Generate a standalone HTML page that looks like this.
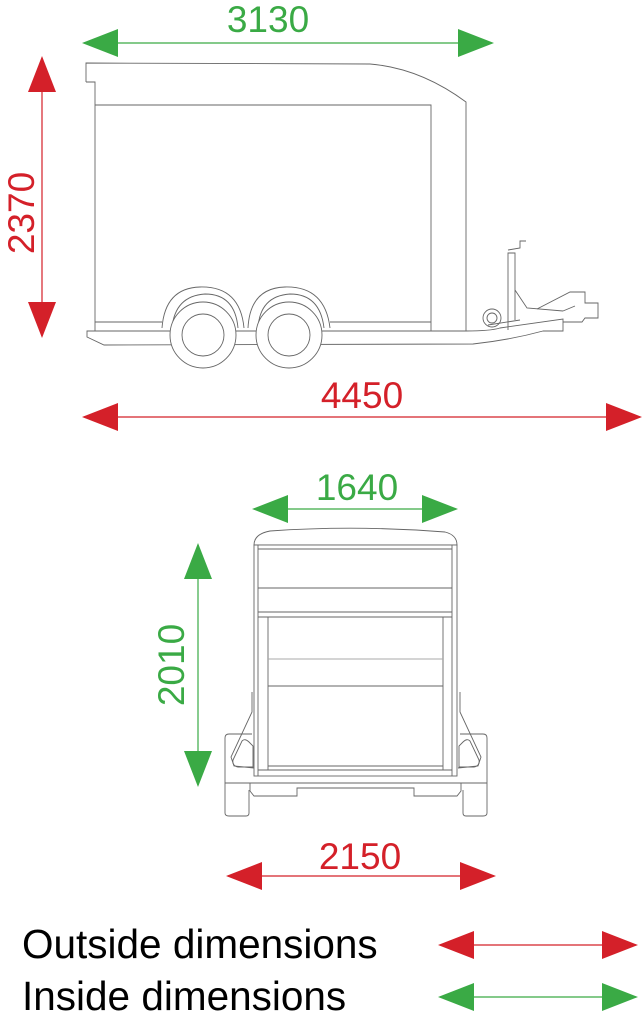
<!DOCTYPE html>
<html><head><meta charset="utf-8"><style>
html,body{margin:0;padding:0;background:#fff;}
svg{display:block;}
text{font-family:"Liberation Sans",sans-serif;}
</style></head><body>
<svg width="643" height="1024" viewBox="0 0 643 1024" xmlns="http://www.w3.org/2000/svg">
<defs>
<marker id="gL" viewBox="0 0 36 28" refX="2" refY="14" markerWidth="36" markerHeight="28" markerUnits="userSpaceOnUse" orient="auto"><path d="M0,14 L36,0 L36,28 Z" fill="#3aaa45"/></marker>
<marker id="gR" viewBox="0 0 36 28" refX="34" refY="14" markerWidth="36" markerHeight="28" markerUnits="userSpaceOnUse" orient="auto"><path d="M36,14 L0,0 L0,28 Z" fill="#3aaa45"/></marker>
<marker id="rL" viewBox="0 0 36 28" refX="2" refY="14" markerWidth="36" markerHeight="28" markerUnits="userSpaceOnUse" orient="auto"><path d="M0,14 L36,0 L36,28 Z" fill="#d42029"/></marker>
<marker id="rR" viewBox="0 0 36 28" refX="34" refY="14" markerWidth="36" markerHeight="28" markerUnits="userSpaceOnUse" orient="auto"><path d="M36,14 L0,0 L0,28 Z" fill="#d42029"/></marker>
</defs>

<g stroke-width="1.2">
<line x1="84" y1="43" x2="492" y2="43" stroke="#3aaa45" marker-start="url(#gL)" marker-end="url(#gR)"/>
<line x1="42" y1="58" x2="42" y2="336" stroke="#d42029" marker-start="url(#rL)" marker-end="url(#rR)"/>
<line x1="84" y1="417" x2="640" y2="417" stroke="#d42029" marker-start="url(#rL)" marker-end="url(#rR)"/>
<line x1="254" y1="509" x2="456" y2="509" stroke="#3aaa45" marker-start="url(#gL)" marker-end="url(#gR)"/>
<line x1="198" y1="545" x2="198" y2="785" stroke="#3aaa45" marker-start="url(#gL)" marker-end="url(#gR)"/>
<line x1="228" y1="876" x2="494" y2="876" stroke="#d42029" marker-start="url(#rL)" marker-end="url(#rR)"/>
<line x1="440" y1="945" x2="636" y2="945" stroke="#d42029" marker-start="url(#rL)" marker-end="url(#rR)"/>
<line x1="440" y1="997" x2="636" y2="997" stroke="#3aaa45" marker-start="url(#gL)" marker-end="url(#gR)"/>
</g>

<g font-size="37" text-anchor="middle">
<text x="268" y="32" fill="#3aaa45">3130</text>
<text x="362" y="408" fill="#d42029">4450</text>
<text x="357" y="500" fill="#3aaa45">1640</text>
<text x="360" y="869" fill="#d42029">2150</text>
<text transform="translate(34,213) rotate(-90)" fill="#d42029">2370</text>
<text transform="translate(184,665) rotate(-90)" fill="#3aaa45">2010</text>
</g>
<g font-size="40.5" fill="#000">
<text x="22" y="958">Outside dimensions</text>
<text x="22" y="1010">Inside dimensions</text>
</g>

<g fill="none" stroke="#666" stroke-width="0.9">
<path d="M86,82 L86,63 L370,64 Q420,68 466,102 L466,331"/>
<path d="M86,82 L95,82 L95,331"/>
<path d="M95,105 L431,105 L431,331"/>
<line x1="95" y1="322" x2="162" y2="322"/>
<line x1="330" y1="322" x2="431" y2="322"/>
<path d="M87,331 L466,331 Q490,331 500,328 L563,319 L563,331 L543,331 Q510,340 473,344 L104,345 L87,337 Z" fill="#fff"/>
<path d="M162,328 Q165,288 200,287 Q240,286 244,328" fill="#fff"/>
<path d="M172,328 Q175,296 205,294 Q235,294 238,328"/>
<path d="M248,328 Q250,288 285,287 Q325,286 330,328" fill="#fff"/>
<path d="M258,328 Q260,296 290,294 Q320,294 324,328"/>
<circle cx="203" cy="335" r="33" fill="#fff"/>
<circle cx="203" cy="335" r="21"/>
<circle cx="289" cy="335" r="33" fill="#fff"/>
<circle cx="289" cy="335" r="21"/>
<circle cx="492" cy="318" r="9" fill="#fff"/>
<circle cx="492" cy="318" r="5"/>
<path d="M488,325 L520,320"/>
<path d="M508,330 L508,253 L515,253 L515,320"/>
<path d="M508,250 L520,248 L520,241 L526,241"/>
<path d="M515,290 L527,308 L563,311"/>
<path d="M537,309 L570,292 L585,292 L585,303 L598,303 L598,318 L585,318 L582,322 L563,322"/>
<path d="M563,311 L575,306"/>
</g>

<g fill="none" stroke="#666" stroke-width="0.9">
<path d="M225,738 Q225,734 229,734 L252,734"/>
<path d="M487,738 Q487,734 483,734 L460,734"/>
<path d="M225,738 L225,813 Q225,816 229,816 L246,816 Q249,816 249,813 L249,790"/>
<path d="M487,738 L487,813 Q487,816 483,816 L466,816 Q463,816 463,813 L463,790"/>
<path d="M225,783 L487,783"/>
<path d="M250,783 L250,791 L254,796 L297,796 L297,788 L414,788 L414,796 L457,796 L461,791 L461,783"/>
<path d="M252,692 L252,712 L231,757 L234,766 L254,768"/>
<path d="M460,692 L460,712 L481,757 L478,766 L458,768"/>
<path d="M233,760 L242,741 Q245,738 249,742 L253,746 L253,767 L238,767 Q232,766 233,760 Z"/>
<path d="M479,760 L470,741 Q467,738 463,742 L459,746 L459,767 L474,767 Q480,766 479,760 Z"/>
<path d="M254,545 Q254,534 270,531 Q357,525 445,532 Q457,535 457,545 Z" fill="#fff"/>
<rect x="254" y="545" width="203" height="231" fill="#fff"/>
<line x1="258" y1="545" x2="258" y2="776"/>
<line x1="452" y1="545" x2="452" y2="776"/>
<line x1="258" y1="549" x2="452" y2="549"/>
<line x1="258" y1="588" x2="452" y2="588"/>
<line x1="258" y1="612" x2="452" y2="612"/>
<line x1="258" y1="617" x2="452" y2="617"/>
<line x1="268" y1="617" x2="268" y2="770"/>
<line x1="443" y1="617" x2="443" y2="770"/>
<line x1="268" y1="659" x2="443" y2="659" stroke="#aaa"/>
<line x1="268" y1="686" x2="443" y2="686"/>
<line x1="268" y1="766" x2="443" y2="766"/>
<line x1="258" y1="770" x2="452" y2="770"/>
</g>
</svg>
</body></html>
